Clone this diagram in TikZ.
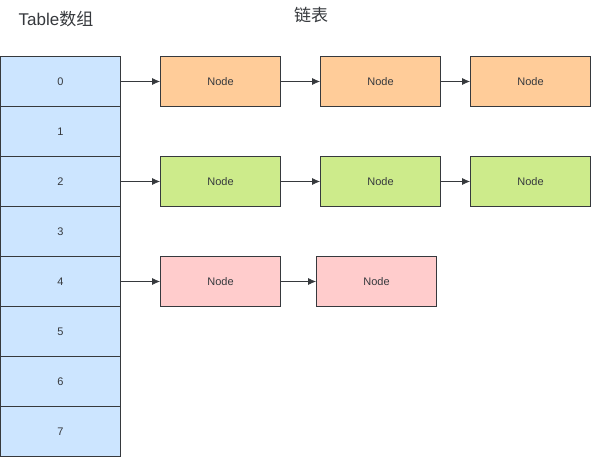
\documentclass[tikz,border=0pt]{standalone}
\usepackage{fontspec}
\setmainfont{Liberation Sans}
\newfontfamily\cjk{Noto Sans CJK SC}
\usetikzlibrary{arrows.meta}
\definecolor{strk}{HTML}{36393D}
\definecolor{cblue}{HTML}{CCE5FF}
\definecolor{corange}{HTML}{FFCC99}
\definecolor{cgreen}{HTML}{CDEB8B}
\definecolor{cpink}{HTML}{FFCCCC}
\begin{document}
\begin{tikzpicture}[x=1pt,y=-1pt,
  cell/.style={draw=strk,line width=0.8pt,fill=cblue,minimum width=120pt,minimum height=50pt,inner sep=0pt,font=\fontsize{11}{11}\selectfont,text=strk},
  nd/.style={draw=strk,line width=0.8pt,minimum width=120pt,minimum height=50pt,inner sep=0pt,font=\fontsize{11}{11}\selectfont,text=strk},
  link/.style={draw=strk,line width=0.8pt,-{Latex[length=8pt,width=7pt]}}]
\useasboundingbox (0,0) rectangle (591,457);
\node[font=\fontsize{17}{17}\selectfont,text=strk] (t1) at (56,19) {Table{\cjk 数组}};
\node[font=\fontsize{17}{17}\selectfont,text=strk] (t2) at (311,15) {\cjk 链表};
\foreach \i in {0,...,7}{
  \node[cell] (c\i) at (60.5,{81.5+50*\i}) {\i};
}
\node[nd,fill=corange] (a1) at (220.5,81.5) {Node};
\node[nd,fill=corange] (a2) at (380.5,81.5) {Node};
\node[nd,fill=corange] (a3) at (530.5,81.5) {Node};
\node[nd,fill=cgreen] (b1) at (220.5,181.5) {Node};
\node[nd,fill=cgreen] (b2) at (380.5,181.5) {Node};
\node[nd,fill=cgreen] (b3) at (530.5,181.5) {Node};
\node[nd,fill=cpink] (d1) at (220.5,281.5) {Node};
\node[nd,fill=cpink] (d2) at (376.5,281.5) {Node};
\draw[link] (c0) -- (a1);
\draw[link] (a1) -- (a2);
\draw[link] (a2) -- (a3);
\draw[link] (c2) -- (b1);
\draw[link] (b1) -- (b2);
\draw[link] (b2) -- (b3);
\draw[link] (c4) -- (d1);
\draw[link] (d1) -- (d2);
\end{tikzpicture}
\end{document}
